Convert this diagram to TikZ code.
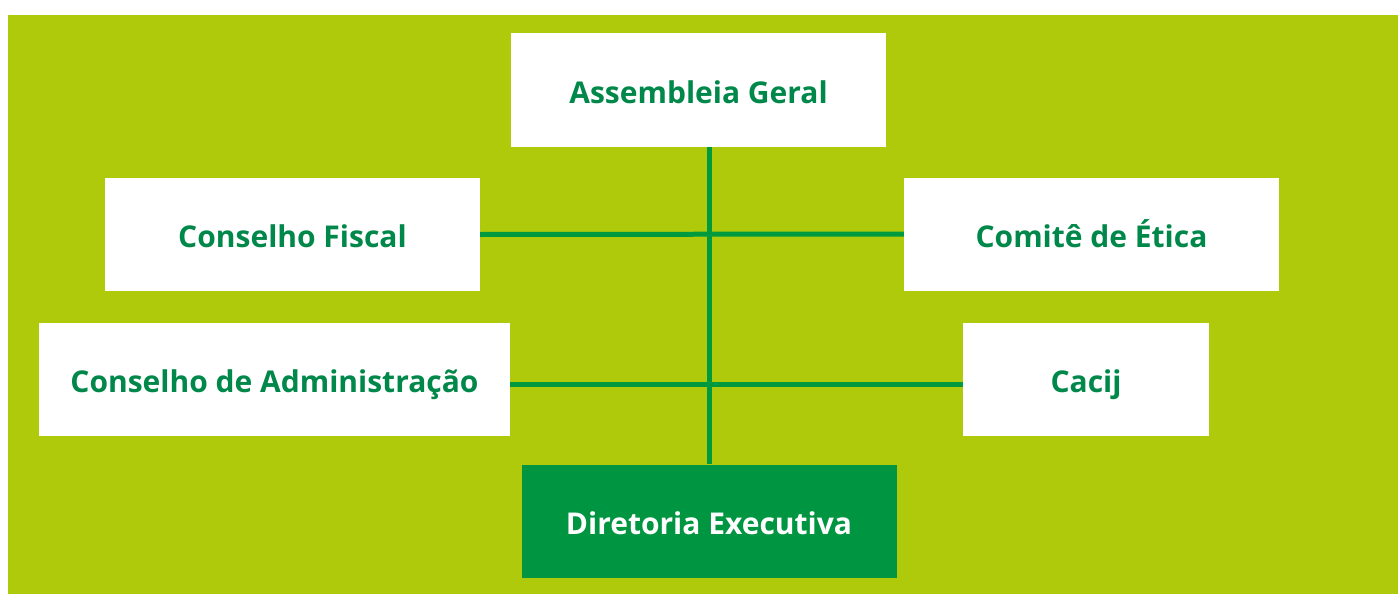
\documentclass[tikz,border=0pt]{standalone}
\usepackage{fontspec}
\setmainfont{Open Sans}
\definecolor{lime}{HTML}{AFCA0B}
\definecolor{dkgreen}{HTML}{00884A}
\definecolor{linegreen}{HTML}{009A3E}
\definecolor{dirgreen}{HTML}{009540}
\tikzset{
  orgbox/.style={fill=white, text=dkgreen, minimum height=113pt,
    font=\fontsize{30}{36}\selectfont\bfseries, inner sep=0pt,
    text height=28pt, text depth=2pt},
  link/.style={draw=linegreen, line width=5pt}
}
\begin{document}
\begin{tikzpicture}[x=1pt, y=-1pt]
    \useasboundingbox (0,0) rectangle (1398,594);
    \fill[lime] (8,15) rectangle (1398,594);

    \node[orgbox, minimum width=375pt] (ag) at (698.5,90) {Assembleia Geral};
    \node[orgbox, minimum width=375pt] (fiscal) at (292.5,234.5) {Conselho Fiscal};
    \node[orgbox, minimum width=375pt] (etica) at (1091.5,234) {Comitê de Ética};
    \node[orgbox, minimum width=471pt] (admin) at (274.5,379.5) {Conselho de Administração};
    \node[orgbox, minimum width=246pt] (cacij) at (1086,379.5) {Cacij};
    \node[orgbox, minimum width=375pt, fill=dirgreen, text=white] (dir) at (709,521) {Diretoria Executiva};

    \draw[link] (dir.north) -- (dir.north |- ag.south);
    \draw[link] (fiscal.east) -- (etica.west);
    \draw[link] ([yshift=-5pt]admin.east) -- ([yshift=-5pt]cacij.west);
\end{tikzpicture}
\end{document}
